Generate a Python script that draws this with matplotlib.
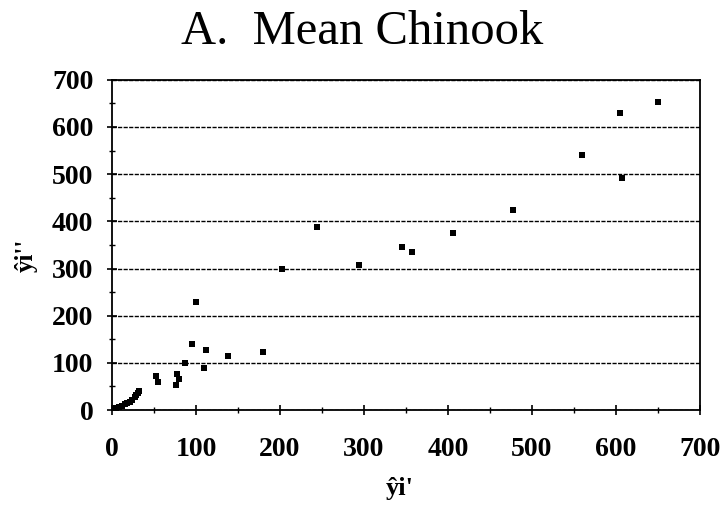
import matplotlib
matplotlib.use("Agg")
import matplotlib.pyplot as plt
from matplotlib.ticker import MultipleLocator

plt.rcParams['font.family'] = ['Liberation Serif', 'DejaVu Serif']

title = "A.  Mean Chinook"
x_label = "ŷi'"
y_label = "ŷi''"
x_ticks = [0, 100, 200, 300, 400, 500, 600, 700]
y_ticks = [0, 100, 200, 300, 400, 500, 600, 700]

x_vals = [650, 605, 560, 607, 477, 406, 345, 357, 294, 244, 202, 100, 95, 112, 138, 180,
          87, 110, 52, 55, 77, 80, 76,
          2, 5, 8, 12, 15, 18, 21, 24, 27, 29, 31, 32]
y_vals = [652, 630, 540, 492, 425, 376, 346, 336, 307, 388, 298, 229, 139, 127, 115, 122,
          100, 89, 73, 60, 77, 65, 53,
          2, 4, 6, 9, 12, 15, 18, 22, 27, 32, 37, 41]

fig = plt.figure(figsize=(7.24, 5.05), dpi=100)
ax = fig.add_axes([0.1547, 0.188, 0.812, 0.654])

ax.scatter(x_vals, y_vals, marker='s', s=24, color='black', zorder=3, linewidths=0)

ax.set_xlim(0, 700)
ax.set_ylim(0, 700)
ax.set_xticks(x_ticks)
ax.set_yticks(y_ticks)
ax.xaxis.set_minor_locator(MultipleLocator(50))
ax.yaxis.set_minor_locator(MultipleLocator(50))
ax.tick_params(axis='both', which='major', direction='inout', length=7, width=1.2,
               labelsize=20)
ax.tick_params(axis='x', which='major', pad=16)
ax.tick_params(axis='y', which='major', pad=10)
ax.tick_params(axis='both', which='minor', direction='inout', length=5, width=1.0)
ax.tick_params(axis='x', top=False)
ax.tick_params(axis='y', right=False)
for lab in ax.get_xticklabels() + ax.get_yticklabels():
    lab.set_fontweight('bold')

ax.yaxis.grid(True, which='major', color='black', linestyle=(0, (3, 1)), linewidth=1.0)
for s in ax.spines.values():
    s.set_linewidth(1.3)
    s.set_color('black')

fig.text(400 / 724, 1 - 495 / 505, x_label, ha='center', va='baseline',
         fontsize=19, fontweight='bold')
fig.text(26 / 724, 1 - 255 / 505, y_label, ha='center', va='center', rotation=90,
         fontsize=18, fontweight='bold')

fig.text(0.5, 1 - 44 / 505, title, ha='center', va='baseline', fontsize=35)

fig.savefig("out.png", dpi=100)
